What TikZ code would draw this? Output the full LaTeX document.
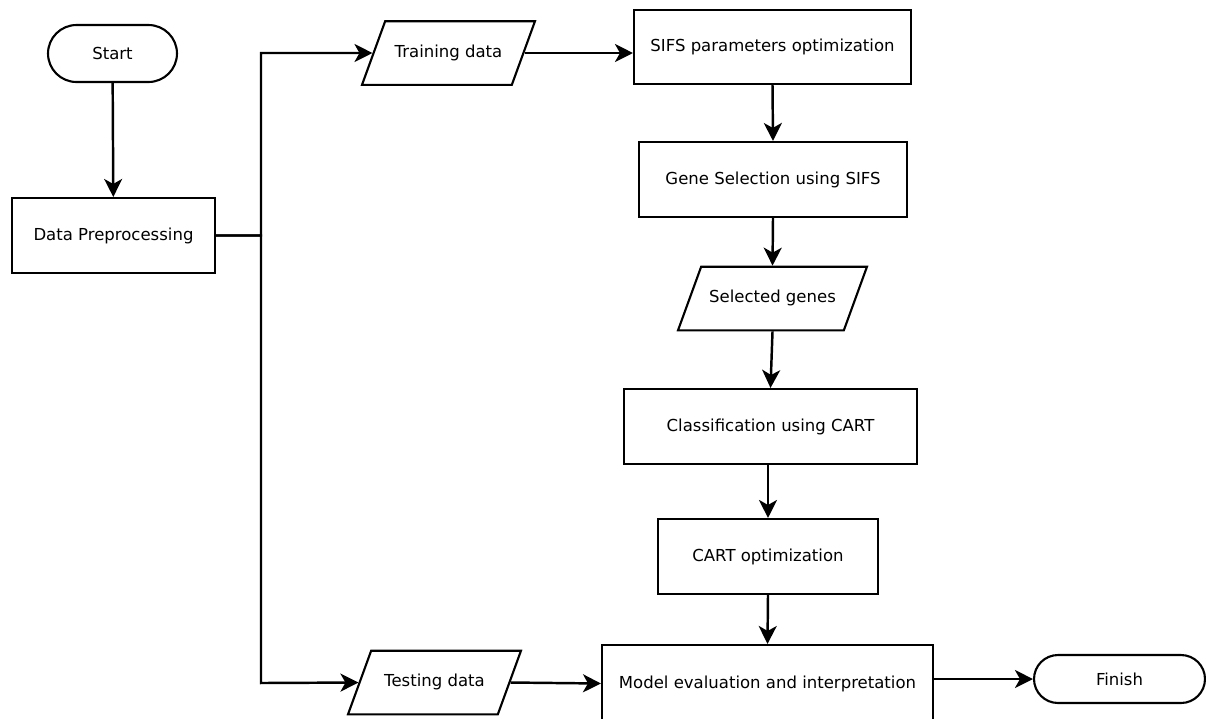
\documentclass[tikz,border=0pt]{standalone}
\usepackage{fontspec}
\setmainfont{DejaVu Sans}
\usetikzlibrary{shapes.geometric,shapes.misc,arrows.meta}
\definecolor{FluxoK}{RGB}{0,0,0}

\begin{document}
\begin{tikzpicture}[x=.02cm,y=-.02cm,
  every node/.style={font=\fontsize{9.4}{11}\selectfont,inner sep=0pt},
  proc/.style={draw=FluxoK,line width=1.2pt,rectangle,minimum height=1.5cm},
  io/.style={draw=FluxoK,line width=1.2pt,trapezium,trapezium left angle=70,trapezium right angle=110,trapezium stretches body=true,text height=7.2pt,text depth=2.2pt,inner ysep=13.4pt},
  term/.style={draw=FluxoK,line width=1.2pt,rounded rectangle},
  flow/.style={FluxoK,line width=1.4pt,-{Stealth[length=3.6mm,width=3.6mm,inset=1mm]}}]
\useasboundingbox (0,0) rectangle (1206,718);
\node[term,minimum width=2.58cm,minimum height=1.14cm](start)at(112.5,53.5){Start};
\node[proc,minimum width=4.06cm](prep)at(113.5,235.5){Data Preprocessing};
\node[io,minimum width=3.46cm](train)at(448.5,53){Training data};
\node[proc,minimum width=5.54cm,minimum height=1.48cm](sifs)at(772.5,47){SIFS parameters optimization};
\node[proc,minimum width=5.36cm](genesel)at(773,179.5){Gene Selection using SIFS};
\node[io,minimum width=3.78cm](selgenes)at(772.5,298.5){Selected genes};
\node[proc,minimum width=5.86cm](classif)at(770.5,426.5){Classification using CART};
\node[proc,minimum width=4.4cm](cartopt)at(768,556.5){CART optimization};
\node[proc,minimum width=6.62cm,minimum height=1.54cm](modeleval)at(767.5,683.5){Model evaluation and interpretation};
\node[io,minimum width=3.46cm](test)at(434.5,682.5){Testing data};
\node[term,minimum width=3.42cm,minimum height=.96cm](finish)at(1119.5,679){Finish};
\coordinate(bustop)at(261,53);
\coordinate(busbot)at(261,683);
\draw[flow](start)--(prep);
\draw[flow](prep.east)-|(bustop)--(train.west);
\draw[flow](prep.east)-|(busbot)--(test.west);
\draw[flow](train.east)--(sifs.west|-train.east);
\draw[flow](sifs.south)--(genesel.north);
\draw[flow](genesel.south)--(selgenes.north);
\draw[flow](selgenes.south)--(classif.north);
\draw[flow](cartopt.north|-classif.south)--(cartopt.north);
\draw[flow](cartopt.south)--(modeleval.north);
\draw[flow](test.east)--(modeleval.west);
\draw[flow](finish.west-|modeleval.east)--(finish.west);
\end{tikzpicture}
\end{document}
